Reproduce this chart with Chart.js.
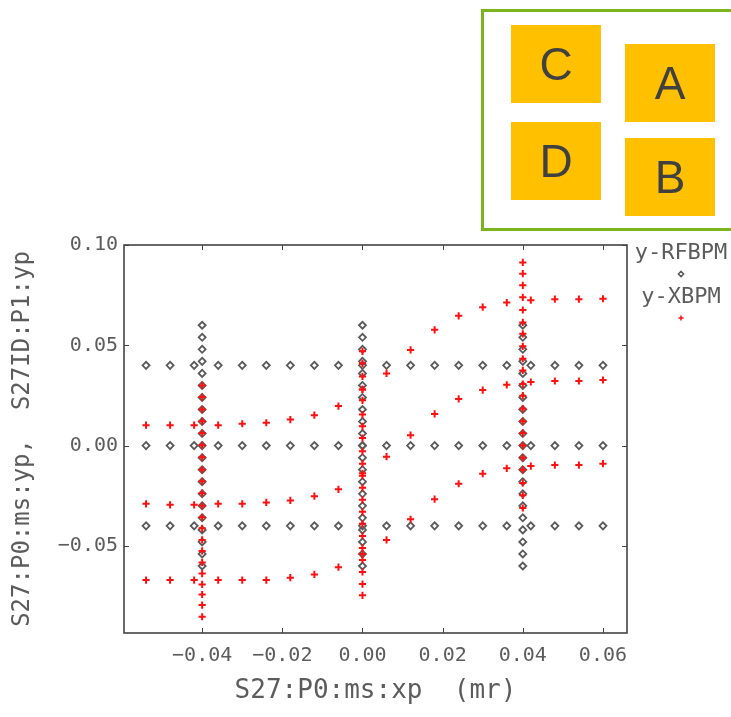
<!DOCTYPE html>
<html>
<head>
<meta charset="utf-8">
<script src="https://cdn.jsdelivr.net/npm/chart.js@4.4.1/dist/chart.umd.min.js"></script>
<style>
  html, body { margin: 0; padding: 0; background: #fff; overflow: hidden; }
  #wrap { position: relative; width: 731px; height: 717px; }
  #c { position: absolute; left: 0; top: 0; }
  .frame {
    position: absolute; left: 481px; top: 9px; width: 270px; height: 216px;
    border: 3px solid #7ab51d; box-sizing: content-box;
  }
  .tag {
    position: absolute; width: 90px; height: 78px; background: #ffc000;
    color: #404040; font: 46px "Liberation Sans", Arial, sans-serif;
    display: flex; align-items: center; justify-content: center;
  }
</style>
</head>
<body>
<div id="wrap">
  <canvas id="c" width="731" height="717"></canvas>
  <div class="frame"></div>
  <div class="tag" style="left:511px;top:25px">C</div>
  <div class="tag" style="left:625px;top:44px">A</div>
  <div class="tag" style="left:511px;top:122px">D</div>
  <div class="tag" style="left:625px;top:138px">B</div>
</div>
<script>
// Scan geometry: horizontal rows and vertical columns of set points
const ROW_X = [-0.054, -0.048, -0.042, -0.036, -0.030, -0.024, -0.018, -0.012, -0.006, 0.000,
                0.006,  0.012,  0.018,  0.024,  0.030,  0.036,  0.042,  0.048,  0.054, 0.060];
const RF_ROW_Y = [0.04, 0.00, -0.04];
const COL_X = [-0.04, 0.00, 0.04];
const RF_COL_Y = [0.060, 0.054, 0.048, 0.042, 0.036, 0.030, 0.024, 0.018, 0.012, 0.006, 0.000,
                 -0.006, -0.012, -0.018, -0.024, -0.030, -0.036, -0.042, -0.048, -0.054, -0.060];

// y-XBPM readings along the three rows (same x as ROW_X)
const XB_ROW_HI  = [0.0102, 0.0102, 0.0102, 0.0102, 0.0109, 0.0114, 0.0130, 0.0152, 0.0197, 0.0280,
                    0.0360, 0.0477, 0.0577, 0.0647, 0.0690, 0.0713, 0.0725, 0.0730, 0.0730, 0.0732];
const XB_ROW_MID = [-0.0290, -0.0295, -0.0295, -0.0290, -0.0290, -0.0283, -0.0273, -0.0252, -0.0218, -0.0138,
                    -0.0055, 0.0052, 0.0158, 0.0233, 0.0277, 0.0303, 0.0317, 0.0322, 0.0322, 0.0327];
const XB_ROW_LO  = [-0.0670, -0.0670, -0.0670, -0.0670, -0.0670, -0.0670, -0.0658, -0.0642, -0.0606, -0.0540,
                    -0.0470, -0.0367, -0.0267, -0.0190, -0.0140, -0.0113, -0.0102, -0.0097, -0.0097, -0.0090];

// y-XBPM readings along the three columns (same order as RF_COL_Y)
const XB_COL_M04 = [0.0300, 0.0242, 0.0180, 0.0122, 0.0063, 0.0002, -0.0058, -0.0120, -0.0178, -0.0237, -0.0300,
                    -0.0357, -0.0412, -0.0470, -0.0525, -0.0582, -0.0638, -0.0692, -0.0742, -0.0795, -0.0853];
const XB_COL_0   = [0.0470, 0.0410, 0.0345, 0.0280, 0.0226, 0.0155, 0.0096, 0.0038, -0.0028, -0.0090, -0.0150,
                    -0.0210, -0.0270, -0.0330, -0.0390, -0.0450, -0.0510, -0.0570, -0.0630, -0.0690, -0.0746];
const XB_COL_P04 = [0.0913, 0.0857, 0.0799, 0.0739, 0.0676, 0.0614, 0.0557, 0.0495, 0.0433, 0.0375, 0.0307,
                    0.0249, 0.0184, 0.0121, 0.0063, 0.0000, -0.0061, -0.0120, -0.0186, -0.0248, -0.0311];

const X_TICKS = [-0.04, -0.02, 0.00, 0.02, 0.04, 0.06];
const Y_TICKS = [-0.05, 0.00, 0.05, 0.10];

const AXIS_COLOR = "#444";
const TEXT_COLOR = "#5c5c5c";
const MONO = "'DejaVu Sans Mono', monospace";

function rowPoints(ys) { return ROW_X.map((x, i) => ({ x, y: ys[i] })); }
function colPoints(x, ys) { return ys.map(y => ({ x, y })); }

const rfData = [
  ...RF_ROW_Y.flatMap(y => ROW_X.map(x => ({ x, y }))),
  ...COL_X.flatMap(x => colPoints(x, RF_COL_Y)),
];
const xbData = [
  ...rowPoints(XB_ROW_HI), ...rowPoints(XB_ROW_MID), ...rowPoints(XB_ROW_LO),
  ...colPoints(COL_X[0], XB_COL_M04), ...colPoints(COL_X[1], XB_COL_0), ...colPoints(COL_X[2], XB_COL_P04),
];

const fmtTick = v => {
  const s = Math.abs(v) < 1e-9 ? "0.00" : v.toFixed(2);
  return s.replace("-", "\u2212");
};

// frame with inward ticks, plus the stacked legend on the right
const framePlugin = {
  id: "frame",
  afterDatasetsDraw(chart) {
    const { ctx, chartArea: a, scales: { x, y } } = chart;
    ctx.save();
    ctx.strokeStyle = AXIS_COLOR;
    ctx.lineWidth = 1.6;
    ctx.strokeRect(a.left, a.top, a.right - a.left, a.bottom - a.top);
    ctx.lineWidth = 1;
    ctx.beginPath();
    X_TICKS.forEach(v => {
      const px = Math.round(x.getPixelForValue(v)) + 0.5;
      ctx.moveTo(px, a.bottom); ctx.lineTo(px, a.bottom - 5);
      ctx.moveTo(px, a.top);    ctx.lineTo(px, a.top + 5);
    });
    Y_TICKS.forEach(v => {
      const py = Math.round(y.getPixelForValue(v)) + 0.5;
      ctx.moveTo(a.left, py);  ctx.lineTo(a.left + 5, py);
      ctx.moveTo(a.right, py); ctx.lineTo(a.right - 5, py);
    });
    ctx.stroke();
    ctx.restore();
  },
  afterDraw(chart) {
    const { ctx, chartArea: a } = chart;
    const cx = a.right + 54;
    ctx.save();
    ctx.font = "22px " + MONO;
    ctx.textAlign = "center";
    ctx.textBaseline = "middle";
    chart.data.datasets.forEach((ds, i) => {
      const ty = a.top + 8 + i * 44;
      ctx.fillStyle = TEXT_COLOR;
      ctx.fillText(ds.label, cx, ty);
      ctx.strokeStyle = ds.borderColor;
      ctx.fillStyle = "rgba(0,0,0,0)";
      ctx.lineWidth = 1.5;
      Chart.helpers.drawPoint(ctx, { pointStyle: ds.pointStyle, radius: 2.6, borderWidth: 1.5 }, cx, ty + 21);
    });
    ctx.restore();
  },
};

new Chart(document.getElementById("c"), {
  type: "scatter",
  plugins: [framePlugin],
  data: {
    datasets: [
      {
        label: "y-RFBPM",
        data: rfData,
        pointStyle: "rectRot",
        pointRadius: 3.5,
        borderColor: "#5a5a5a",
        backgroundColor: "rgba(255,255,255,0)",
        borderWidth: 1.8,
        order: 1,
      },
      {
        label: "y-XBPM",
        data: xbData,
        pointStyle: "cross",
        pointRadius: 3.6,
        borderColor: "#ff1010",
        backgroundColor: "#ff1010",
        borderWidth: 2,
        order: 0,
      },
    ],
  },
  options: {
    responsive: false,
    animation: false,
    layout: { padding: { top: 245, right: 104, left: 0, bottom: 0 } },
    plugins: { legend: { display: false }, tooltip: { enabled: false } },
    scales: {
      x: {
        type: "linear",
        min: -0.0595,
        max: 0.066,
        afterBuildTicks: s => { s.ticks = X_TICKS.map(value => ({ value })); },
        afterFit: s => { s.height = 84; },
        grid: { display: false, drawTicks: false },
        border: { display: false },
        ticks: { color: TEXT_COLOR, font: { family: MONO, size: 20 }, padding: 11, maxRotation: 0, callback: fmtTick },
        title: {
          display: true,
          text: "S27:P0:ms:xp  (mr)",
          color: TEXT_COLOR,
          font: { family: MONO, size: 26 },
          padding: { top: 0, bottom: 10 },
        },
      },
      y: {
        type: "linear",
        min: -0.0934,
        max: 0.10,
        afterBuildTicks: s => { s.ticks = Y_TICKS.map(value => ({ value })); },
        afterFit: s => { s.width = 124; },
        grid: { display: false, drawTicks: false },
        border: { display: false },
        ticks: { color: TEXT_COLOR, font: { family: MONO, size: 20 }, padding: 6, callback: fmtTick },
        title: {
          display: true,
          text: "S27:P0:ms:yp,  S27ID:P1:yp",
          color: TEXT_COLOR,
          font: { family: MONO, size: 24 },
          padding: { top: 8, bottom: 0 },
        },
      },
    },
  },
});
</script>
</body>
</html>
